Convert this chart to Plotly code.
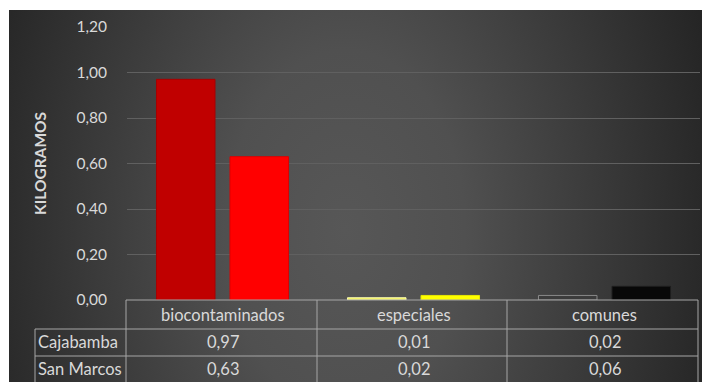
import base64
import plotly.graph_objects as go

# ---- data ----
categories = ["biocontaminados", "especiales", "comunes"]
series_names = ["Cajabamba", "San Marcos"]
cajabamba = [0.97, 0.01, 0.02]
san_marcos = [0.63, 0.02, 0.06]
y_ticks = [0.0, 0.2, 0.4, 0.6, 0.8, 1.0, 1.2]

caj_colors = ["#C00000", "#F2F25A", "#3C3C3C"]
caj_lines = ["#A80000", "#FAFAB0", "#8A8A8A"]
sm_colors = ["#FF0000", "#FFFF00", "#080808"]
sm_lines = ["#E00000", "#E6E600", "#1E1E1E"]

W, H = 702, 382
L, R, T, B = 127, 2, 27, 82
PW, PH = W - L - R, H - T - B


def px(x):
    return (x - L) / PW


def py(y):
    return (H - B - y) / PH


def fmt(v):
    return f"{v:.2f}".replace(".", ",")


TXT = "#D9D9D9"
FONT = "Lato"
TFS = 16.5

fig = go.Figure()
fig.add_trace(go.Bar(x=categories, y=cajabamba, name=series_names[0],
                     marker=dict(color=caj_colors, line=dict(color=caj_lines, width=1))))
fig.add_trace(go.Bar(x=categories, y=san_marcos, name=series_names[1],
                     marker=dict(color=sm_colors, line=dict(color=sm_lines, width=1))))

# background gradient
bw, bh = 693, 372
svg = (f'<svg xmlns="http://www.w3.org/2000/svg" width="{bw}" height="{bh}" '
       f'viewBox="0 0 {bw} {bh}" preserveAspectRatio="none"><defs>'
       f'<radialGradient id="g" gradientUnits="userSpaceOnUse" cx="336" cy="220" r="400" '
       f'gradientTransform="translate(336 220) scale(1 1.5) translate(-336 -220)">'
       f'<stop offset="0" stop-color="#575757"/><stop offset="0.3" stop-color="#505050"/>'
       f'<stop offset="1" stop-color="#222222"/></radialGradient></defs>'
       f'<rect width="{bw}" height="{bh}" fill="url(#g)"/></svg>')
src = "data:image/svg+xml;base64," + base64.b64encode(svg.encode()).decode()

images = [dict(source=src, xref="paper", yref="paper", x=px(9), y=py(10),
               sizex=px(702) - px(9), sizey=py(10) - py(382), sizing="stretch",
               xanchor="left", yanchor="top", layer="below")]

# data table lines
LC = "#A6A6A6"
shapes = []


def hline(x0, x1, y):
    shapes.append(dict(type="line", xref="paper", yref="paper", x0=px(x0), x1=px(x1),
                       y0=py(y), y1=py(y), line=dict(color=LC, width=1)))


def vline(x, y0, y1):
    shapes.append(dict(type="line", xref="paper", yref="paper", x0=px(x), x1=px(x),
                       y0=py(y0), y1=py(y1), line=dict(color=LC, width=1)))


hline(126, 698, 300)
hline(35, 698, 329)
hline(35, 698, 356)
vline(35, 329, 390)
for xv in (126, 317, 507, 698):
    vline(xv, 300, 390)

annotations = []
for c in categories:
    annotations.append(dict(x=c, xref="x", y=py(314.5), yref="paper", text=c, showarrow=False,
                            font=dict(family=FONT, size=TFS, color=TXT), xanchor="center", yanchor="middle"))
for name, vals, yc in ((series_names[0], cajabamba, 342.5), (series_names[1], san_marcos, 369)):
    annotations.append(dict(x=px(36), xref="paper", y=py(yc), yref="paper", text=name, showarrow=False,
                            font=dict(family=FONT, size=TFS, color=TXT), xanchor="left", yanchor="middle"))
    for c, v in zip(categories, vals):
        annotations.append(dict(x=c, xref="x", y=py(yc), yref="paper", text=fmt(v), showarrow=False,
                                font=dict(family=FONT, size=TFS, color=TXT), xanchor="center", yanchor="middle"))
annotations.append(dict(x=px(40), xref="paper", y=py(164), yref="paper", text="<b>KILOGRAMOS</b>",
                        textangle=-90, showarrow=False, font=dict(family=FONT, size=15.5, color=TXT),
                        xanchor="center", yanchor="middle"))

fig.update_layout(
    width=W, height=H, margin=dict(l=L, r=R, t=T, b=B, autoexpand=False),
    paper_bgcolor="white", plot_bgcolor="rgba(0,0,0,0)",
    barmode="group", bargap=0.23, bargroupgap=0.204,
    showlegend=False, separators=",.",
    images=images, shapes=shapes, annotations=annotations,
    font=dict(family=FONT, color=TXT),
    hovermode=False,
)
fig.update_xaxes(showticklabels=False, showgrid=False, zeroline=False, showline=False,
                 range=[-0.5, 2.5])
fig.update_yaxes(range=[0, 1.2], tickvals=y_ticks, tickformat=".2f",
                 tickfont=dict(family=FONT, size=15.5, color=TXT),
                 showgrid=True, gridcolor="#606060", gridwidth=1, zeroline=False,
                 showline=False, ticks="", ticklabelstandoff=19)

fig.write_html("out.html")
